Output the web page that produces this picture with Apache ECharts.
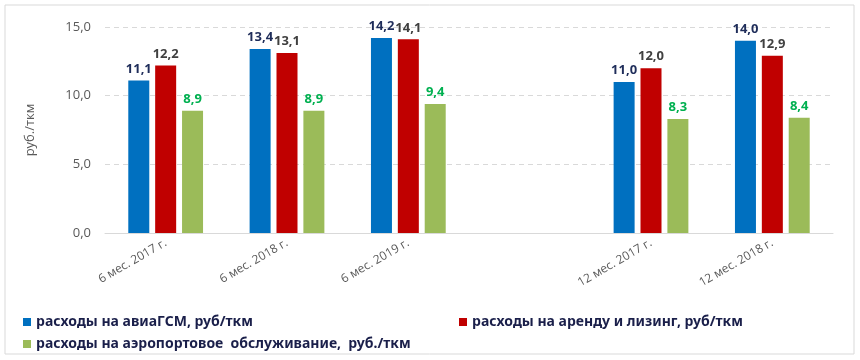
<!DOCTYPE html>
<html><head><meta charset="utf-8">
<script src="https://cdn.jsdelivr.net/npm/echarts@6/dist/echarts.min.js"></script>
<style>html,body{margin:0;padding:0;background:#fff}#c{width:860px;height:360px}</style>
</head><body><div id="c"></div>
<script>
const categories = ['6 мес. 2017 г.', '6 мес. 2018 г.', '6 мес. 2019 г.', '', '12 мес. 2017 г.', '12 мес. 2018 г.'];
const fuel = [11.1, 13.4, 14.2, null, 11.0, 14.0];
const lease = [12.2, 13.1, 14.1, null, 12.0, 12.9];
const airport = [8.9, 8.9, 9.4, null, 8.3, 8.4];
const seriesNames = ['расходы на авиаГСМ, руб/ткм', 'расходы на аренду и лизинг, руб/ткм', 'расходы на аэропортовое  обслуживание,  руб./ткм'];
const yTicks = {min: 0, max: 15, interval: 5};

const FONT = 'Liberation Sans Narrow, Noto Sans, sans-serif';
const fmt = v => v.toFixed(1).replace('.', ',');
function mk(name, data, color, labelColor) {
  return {
    name, type: 'bar', data, barWidth: 21, barGap: '28%',
    itemStyle: {color},
    label: {show: true, position: 'top', distance: 5, color: labelColor, fontWeight: 'bold',
      fontSize: 13, fontFamily: FONT, formatter: p => fmt(p.value)}
  };
}
const chart = echarts.init(document.getElementById('c'), null, {renderer: 'canvas'});
const legendText = {color: '#1a1f4a', fontSize: 14, fontFamily: FONT, fontWeight: 'bold'};
chart.setOption({
  animation: false,
  graphic: [{type: 'rect', shape: {x: 5, y: 5, width: 849, height: 349}, style: {fill: 'none', stroke: '#d9d9d9', lineWidth: 1}}],
  grid: {left: 105, right: 27, top: 27, bottom: 127},
  legend: [
    {data: [seriesNames[0]], left: 18, top: 310, itemWidth: 8, itemHeight: 8, itemGap: 2, icon: 'rect', textStyle: legendText},
    {data: [seriesNames[1]], left: 454, top: 310, itemWidth: 8, itemHeight: 8, icon: 'rect', textStyle: legendText},
    {data: [seriesNames[2]], left: 18, top: 332, itemWidth: 8, itemHeight: 8, icon: 'rect', textStyle: legendText}
  ],
  xAxis: {
    type: 'category', data: categories,
    axisLine: {lineStyle: {color: '#d9d9d9'}}, axisTick: {show: false},
    axisLabel: {interval: 0, rotate: 30, color: '#595959', fontSize: 12, fontFamily: 'Open Sans, sans-serif', margin: 9}
  },
  yAxis: {
    type: 'value', min: yTicks.min, max: yTicks.max, interval: yTicks.interval,
    name: 'руб./ткм', nameLocation: 'middle', nameGap: 68, nameRotate: 90,
    nameTextStyle: {color: '#595959', fontSize: 13, fontFamily: 'Open Sans, sans-serif'},
    axisLine: {show: false}, axisTick: {show: false},
    axisLabel: {color: '#595959', fontSize: 13, fontFamily: 'Open Sans, sans-serif', margin: 14, formatter: v => fmt(v)},
    splitLine: {lineStyle: {color: '#d9d9d9', type: [5, 4]}}
  },
  series: [
    mk(seriesNames[0], fuel, '#0070C0', '#1F2D5A'),
    mk(seriesNames[1], lease, '#C00000', '#404040'),
    mk(seriesNames[2], airport, '#9BBB59', '#00B050')
  ]
});
</script></body></html>
